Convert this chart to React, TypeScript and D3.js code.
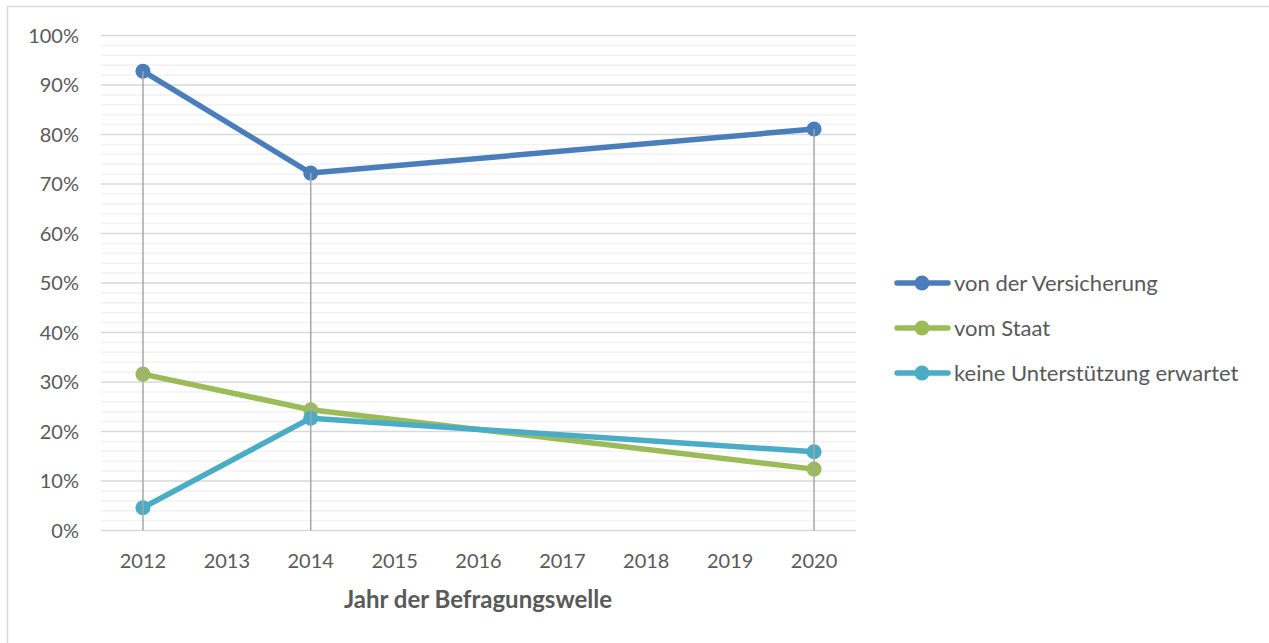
import React, { useRef, useEffect } from "react";
import * as d3 from "d3";

const years = ["2012", "2013", "2014", "2015", "2016", "2017", "2018", "2019", "2020"];
const versicherung: (number | null)[] = [0.928, null, 0.722, null, null, null, null, null, 0.811];
const staat: (number | null)[] = [0.316, null, 0.244, null, null, null, null, null, 0.124];
const keine: (number | null)[] = [0.046, null, 0.227, null, null, null, null, null, 0.159];
const yTicks = [0, 0.1, 0.2, 0.3, 0.4, 0.5, 0.6, 0.7, 0.8, 0.9, 1];

const seriesList = [
  { name: "von der Versicherung", values: versicherung, color: "#4a7ebb" },
  { name: "vom Staat", values: staat, color: "#9bbb59" },
  { name: "keine Unterstützung erwartet", values: keine, color: "#4bacc6" },
];

export default function App() {
  const svgRef = useRef<SVGSVGElement>(null);

  useEffect(() => {
    const svg = d3.select(svgRef.current);
    svg.selectAll("*").remove();

    const width = 1269;
    const height = 643;
    const font = "Lato, 'Open Sans', sans-serif";
    const textColor = "#595959";

    svg.attr("width", width).attr("height", height);

    // chart border
    svg.append("rect")
      .attr("x", 7.5).attr("y", 6.5)
      .attr("width", 1300).attr("height", 700)
      .attr("fill", "white")
      .attr("stroke", "#d9d9d9")
      .attr("stroke-width", 1.5);

    const left = 101, right = 856, top = 35.5, bottom = 530.5;

    const x = d3.scaleBand<string>().domain(years).range([left, right]);
    const y = d3.scaleLinear().domain([0, 1]).range([bottom, top]);
    const cx = (i: number) => (x(years[i]) as number) + x.bandwidth() / 2;

    // minor gridlines
    const minor = d3.range(0, 101, 2).map(v => v / 100).filter(v => Math.round(v * 100) % 10 !== 0);
    svg.append("g").selectAll("line").data(minor).join("line")
      .attr("x1", left).attr("x2", right)
      .attr("y1", d => y(d)).attr("y2", d => y(d))
      .attr("stroke", "#f2f2f2").attr("stroke-width", 1.5);

    // major gridlines
    svg.append("g").selectAll("line").data(yTicks).join("line")
      .attr("x1", left).attr("x2", right)
      .attr("y1", d => y(d)).attr("y2", d => y(d))
      .attr("stroke", "#d9d9d9").attr("stroke-width", 1.5);

    // y labels
    svg.append("g").selectAll("text").data(yTicks).join("text")
      .attr("x", 79).attr("y", d => y(d))
      .attr("dy", "0.35em")
      .attr("text-anchor", "end")
      .attr("font-family", font).attr("font-size", 20)
      .attr("fill", textColor)
      .text(d => d3.format(".0%")(d));

    // x labels
    svg.append("g").selectAll("text").data(years).join("text")
      .attr("x", (d, i) => cx(i)).attr("y", 568)
      .attr("text-anchor", "middle")
      .attr("font-family", font).attr("font-size", 20)
      .attr("fill", textColor)
      .text(d => d);

    svg.append("text")
      .attr("x", 478).attr("y", 608)
      .attr("text-anchor", "middle")
      .attr("font-family", font).attr("font-size", 24).attr("font-weight", "bold")
      .attr("fill", textColor)
      .text("Jahr der Befragungswelle");

    const line = d3.line<{ i: number; v: number }>()
      .x(d => cx(d.i)).y(d => y(d.v));

    seriesList.forEach(s => {
      const pts = s.values
        .map((v, i) => ({ i, v }))
        .filter(d => d.v !== null) as { i: number; v: number }[];
      svg.append("path")
        .attr("d", line(pts))
        .attr("fill", "none")
        .attr("stroke", s.color)
        .attr("stroke-width", 5.5)
        .attr("stroke-linejoin", "round");
      svg.append("g").selectAll("circle").data(pts).join("circle")
        .attr("cx", d => cx(d.i)).attr("cy", d => y(d.v))
        .attr("r", 7.5)
        .attr("fill", s.color);
    });

    // drop lines
    const drops = years.map((yr, i) => {
      const vals = seriesList.map(s => s.values[i]).filter(v => v !== null) as number[];
      return vals.length ? { i, v: d3.max(vals) as number } : null;
    }).filter(Boolean) as { i: number; v: number }[];
    svg.append("g").selectAll("line").data(drops).join("line")
      .attr("x1", d => cx(d.i)).attr("x2", d => cx(d.i))
      .attr("y1", d => y(d.v)).attr("y2", bottom)
      .attr("stroke", "#a6a6a6").attr("stroke-width", 1.5);

    // legend
    const legend = svg.append("g");
    seriesList.forEach((s, k) => {
      const ly = 283 + k * 45;
      legend.append("line")
        .attr("x1", 897).attr("x2", 948)
        .attr("y1", ly).attr("y2", ly)
        .attr("stroke", s.color).attr("stroke-width", 5.5)
        .attr("stroke-linecap", "round");
      legend.append("circle")
        .attr("cx", 922).attr("cy", ly).attr("r", 7.5)
        .attr("fill", s.color);
      legend.append("text")
        .attr("x", 954).attr("y", ly)
        .attr("dy", "0.35em")
        .attr("font-family", font).attr("font-size", 22)
        .attr("fill", textColor)
        .text(s.name);
    });
  }, []);

  return (
    <svg ref={svgRef} style={{ position: "absolute", left: 0, top: 0 }}></svg>
  );
}
